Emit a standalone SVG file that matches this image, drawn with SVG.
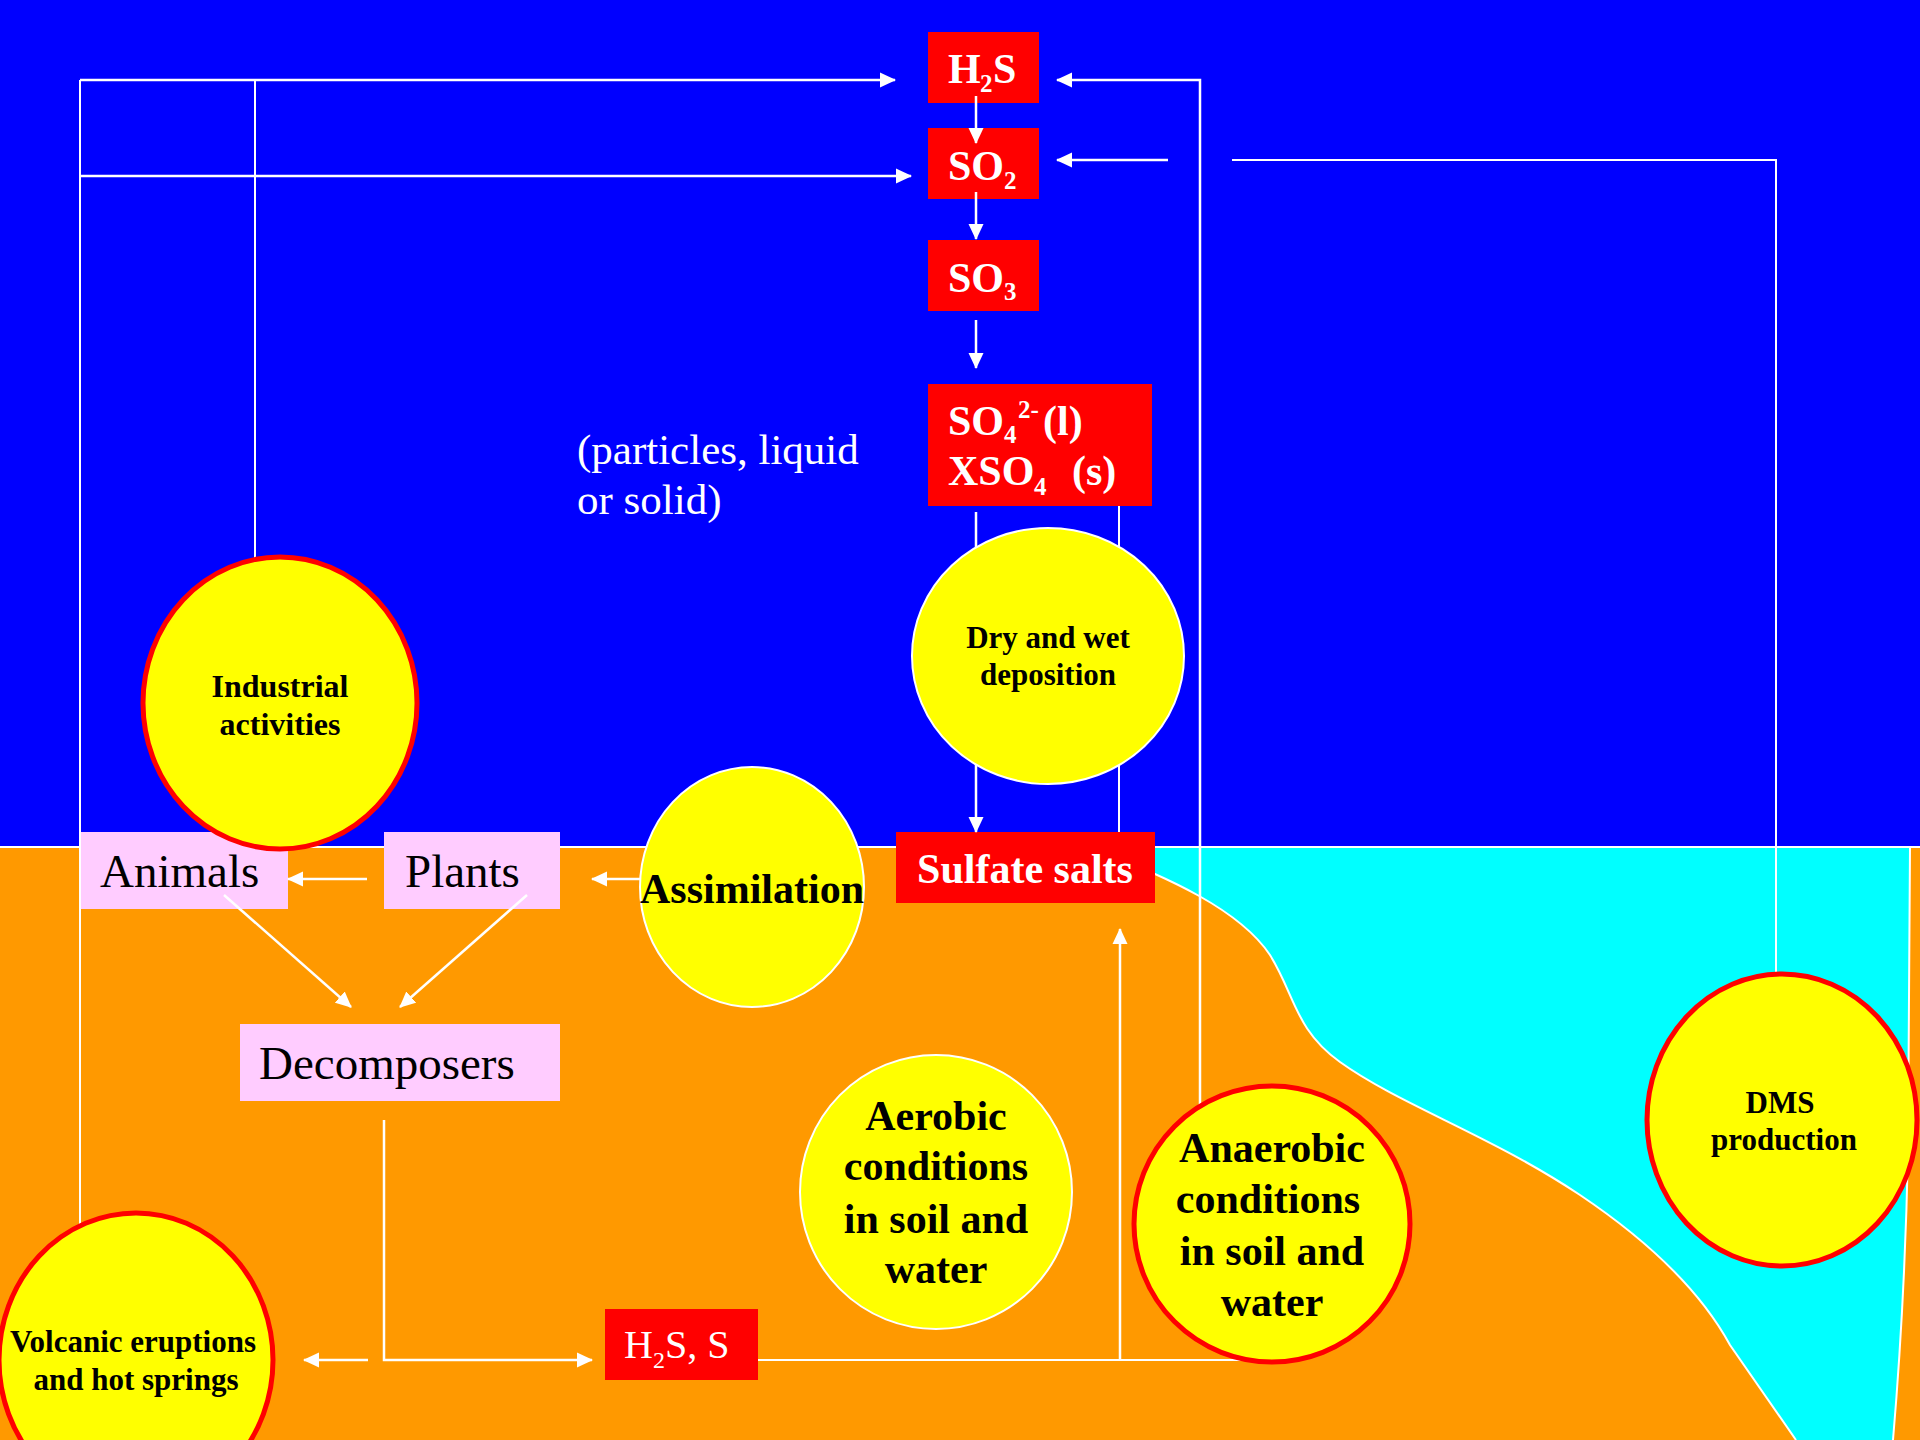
<svg xmlns="http://www.w3.org/2000/svg" width="1920" height="1440" viewBox="0 0 1920 1440">
<defs>
<marker id="ah" viewBox="0 0 16 16" refX="15" refY="8" markerWidth="16" markerHeight="16" markerUnits="userSpaceOnUse" orient="auto">
<path d="M0,0.5 L16,8 L0,15.5 Z" fill="#FFFFFF"/>
</marker>
<style>
text{font-family:"Liberation Serif","Times New Roman",serif}
.chem{fill:#FF0000}
.ct{fill:#FFFFFF;font-weight:bold;font-size:42px}
.sub{font-size:25px}
.pink{fill:#FFCCFF}
.pt{fill:#000000;font-size:47px}
.yr{fill:#FFFF00;stroke:#FF0000;stroke-width:5}
.yw{fill:#FFFF00;stroke:#FFFFFF;stroke-width:2}
.bt{fill:#000000;font-weight:bold;text-anchor:middle}
.b31{font-size:31px}
.b42{font-size:42px}
.ln{fill:none;stroke:#FFFFFF;stroke-width:2}
.ar{fill:none;stroke:#FFFFFF;stroke-width:2.5;marker-end:url(#ah)}
</style>
</defs>
<g id="background">
<rect x="0" y="0" width="1920" height="847" fill="#0000FF"/>
<rect x="0" y="847" width="1920" height="593" fill="#FF9900"/>
<path d="M1090,847 C1170,878 1240,910 1270,955 C1295,995 1295,1030 1340,1062 C1400,1105 1490,1135 1580,1195 C1650,1242 1700,1290 1730,1345 L1796,1440 L1893,1440 Q1905,1300 1908,1150 L1910,847 Z" fill="#00FFFF"/>
<path d="M1090,847 C1170,878 1240,910 1270,955 C1295,995 1295,1030 1340,1062 C1400,1105 1490,1135 1580,1195 C1650,1242 1700,1290 1730,1345 L1796,1440" fill="none" stroke="#FFFFFF" stroke-width="2"/>
<path d="M1910,847 L1908,1150 Q1905,1300 1893,1440" fill="none" stroke="#FFFFFF" stroke-width="2"/>
<line x1="0" y1="847" x2="1920" y2="847" stroke="#FFFFFF" stroke-width="2"/>
<text x="577" y="464" fill="#FFFFFF" font-size="43">(particles, liquid</text>
<text x="577" y="514" fill="#FFFFFF" font-size="43">or solid)</text>
</g>
<g id="node-h2s">
<rect class="chem" x="928" y="32" width="111" height="71"/>
<text class="ct" y="83"><tspan x="948">H</tspan><tspan class="sub" x="980" y="92">2</tspan><tspan x="993" y="83">S</tspan></text>
</g>
<g id="node-so2">
<rect class="chem" x="928" y="128" width="111" height="71"/>
<text class="ct" y="180"><tspan x="948">SO</tspan><tspan class="sub" x="1004" y="189">2</tspan></text>
</g>
<g id="node-so3">
<rect class="chem" x="928" y="240" width="111" height="71"/>
<text class="ct" y="292"><tspan x="948">SO</tspan><tspan class="sub" x="1004" y="300">3</tspan></text>
</g>
<g id="node-so4">
<rect class="chem" x="928" y="384" width="224" height="122"/>
<text class="ct" y="435"><tspan x="948">SO</tspan><tspan class="sub" x="1004" y="443">4</tspan><tspan class="sub" x="1018" y="418">2-</tspan><tspan x="1043" y="435">(l)</tspan></text>
<text class="ct" y="485"><tspan x="948">XSO</tspan><tspan class="sub" x="1034" y="495">4</tspan><tspan x="1072" y="485">(s)</tspan></text>
</g>
<g id="node-sulfate">
<rect class="chem" x="896" y="832" width="259" height="71"/>
<text class="ct" x="1025" y="883" text-anchor="middle">Sulfate salts</text>
</g>
<g id="node-h2s-s">
<rect class="chem" x="605" y="1309" width="153" height="71"/>
<text fill="#FFFFFF" font-size="40" y="1358"><tspan x="624">H</tspan><tspan font-size="24" x="653" y="1368">2</tspan><tspan x="665" y="1358">S, S</tspan></text>
</g>
<g id="node-animals">
<rect class="pink" x="80" y="832" width="208" height="77"/>
<text class="pt" x="100" y="887">Animals</text>
</g>
<g id="node-plants">
<rect class="pink" x="384" y="832" width="176" height="77"/>
<text class="pt" x="405" y="887">Plants</text>
</g>
<g id="node-decomposers">
<rect class="pink" x="240" y="1024" width="320" height="77"/>
<text class="pt" x="259" y="1079">Decomposers</text>
</g>
<g id="connectors">
<path class="ln" d="M80,1225 V80"/>
<path class="ar" d="M80,80 H895"/>
<path class="ar" d="M80,176 H911"/>
<path class="ln" d="M255,560 V80"/>
<path class="ar" d="M976,96 V143"/>
<path class="ar" d="M976,192 V239"/>
<path class="ar" d="M976,320 V368"/>
<path class="ar" d="M976,512 V832"/>
<path class="ln" d="M1119,506 V832"/>
<path class="ar" d="M1200,1105 V80 H1057"/>
<path class="ln" d="M1776,980 V160 H1232"/>
<path class="ar" d="M1168,160 H1057"/>
<path class="ar" d="M367,879 H288"/>
<path class="ar" d="M640,879 H592"/>
<path class="ar" d="M224,895 L351,1007"/>
<path class="ar" d="M527,895 L400,1007"/>
<path class="ar" d="M384,1120 V1360 H592"/>
<path class="ar" d="M368,1360 H304"/>
<path class="ln" d="M758,1360 H1264"/>
<path class="ar" d="M1120,1360 V929"/>
</g>
<g id="node-industrial">
<ellipse class="yr" cx="280" cy="703" rx="137" ry="146"/>
<text class="bt" font-size="32" x="280" y="697">Industrial</text>
<text class="bt" font-size="32" x="280" y="735">activities</text>
</g>
<g id="node-deposition">
<ellipse class="yw" cx="1048" cy="656" rx="136" ry="128"/>
<text class="bt b31" x="1048" y="648">Dry and wet</text>
<text class="bt b31" x="1048" y="685">deposition</text>
</g>
<g id="node-assimilation">
<ellipse class="yw" cx="752" cy="887" rx="112" ry="120"/>
<text class="bt b42" x="752" y="903">Assimilation</text>
</g>
<g id="node-aerobic">
<ellipse class="yw" cx="936" cy="1192" rx="136" ry="137"/>
<text class="bt b42" x="936" y="1130">Aerobic</text>
<text class="bt b42" x="936" y="1180">conditions</text>
<text class="bt b42" x="936" y="1233">in soil and</text>
<text class="bt b42" x="936" y="1283">water</text>
</g>
<g id="node-anaerobic">
<ellipse class="yr" cx="1272" cy="1224" rx="138" ry="138"/>
<text class="bt b42" x="1272" y="1162">Anaerobic</text>
<text class="bt b42" x="1268" y="1213">conditions</text>
<text class="bt b42" x="1272" y="1265">in soil and</text>
<text class="bt b42" x="1272" y="1316">water</text>
</g>
<g id="node-dms">
<ellipse class="yr" cx="1782" cy="1120" rx="135" ry="146"/>
<text class="bt b31" x="1780" y="1113">DMS</text>
<text class="bt b31" x="1784" y="1150">production</text>
</g>
<g id="node-volcanic">
<ellipse class="yr" cx="136" cy="1360" rx="137" ry="147"/>
<text class="bt b31" x="133" y="1352">Volcanic eruptions</text>
<text class="bt b31" x="136" y="1390">and hot springs</text>
</g>
</svg>
